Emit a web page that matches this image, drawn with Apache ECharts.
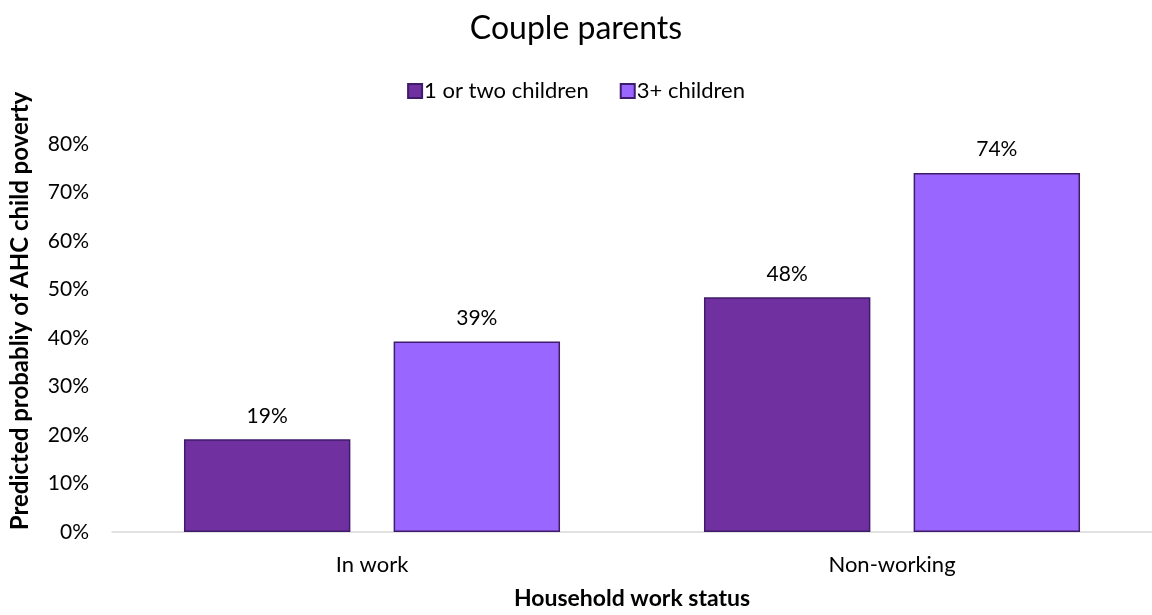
<!DOCTYPE html>
<html>
<head>
<meta charset="utf-8">
<title>Couple parents</title>
<script src="https://cdn.jsdelivr.net/npm/echarts@6/dist/echarts.min.js"></script>
<style>
  html, body { margin: 0; padding: 0; background: #ffffff; }
  #chart { width: 1152px; height: 615px; }
</style>
</head>
<body>
<div id="chart"></div>
<script>
// Household work status categories
const categories = ['In work', 'Non-working'];
// Predicted probability (%) of AHC child poverty by family size
const oneOrTwoChildren = [19.1, 48.4];
const threePlusChildren = [39.3, 74.0];
const seriesNames = ['1 or two children', '3+ children'];

const FONT = 'Lato, "Liberation Sans", sans-serif';

const chart = echarts.init(document.getElementById('chart'), null, { renderer: 'canvas' });

const labelOpt = {
  show: true,
  position: 'top',
  distance: 13,
  color: '#000000',
  fontFamily: FONT,
  fontSize: 21,
  formatter: p => Math.round(p.value) + '%'
};

chart.setOption({
  backgroundColor: '#ffffff',
  animation: false,
  title: {
    text: 'Couple parents',
    left: 'center',
    top: 8,
    textStyle: { fontFamily: FONT, fontSize: 32, fontWeight: 'normal', color: '#000000' }
  },
  legend: {
    top: 75,
    left: 'center',
    icon: 'rect',
    itemWidth: 14,
    itemHeight: 14,
    itemGap: 31,
    textStyle: { fontFamily: FONT, fontSize: 22, color: '#000000', padding: [0, 0, 0, -3] },
    data: seriesNames
  },
  // the plot area runs slightly past the right edge of the canvas
  grid: { left: 110, width: 1050, top: 144, bottom: 83, containLabel: false },
  xAxis: {
    type: 'category',
    data: categories,
    name: 'Household work status',
    nameLocation: 'middle',
    nameGap: 55,
    nameTextStyle: { fontFamily: FONT, fontSize: 23, fontWeight: 'bold', color: '#000000' },
    axisLine: { show: true, lineStyle: { color: '#D9D9D9', width: 1.5 } },
    axisTick: { show: false },
    axisLabel: { fontFamily: FONT, fontSize: 22, color: '#000000', margin: 22 }
  },
  yAxis: {
    type: 'value',
    min: 0,
    max: 80,
    interval: 10,
    name: 'Predicted probabliy of AHC child poverty',
    nameLocation: 'middle',
    nameGap: 80,
    nameTextStyle: { fontFamily: FONT, fontSize: 24, fontWeight: 'bold', color: '#000000', padding: [0, 0, 0, 54] },
    axisLine: { show: false },
    axisTick: { show: false },
    splitLine: { show: false },
    axisLabel: { fontFamily: FONT, fontSize: 21, color: '#000000', margin: 23, formatter: v => v + '%' }
  },
  series: [
    {
      name: seriesNames[0],
      type: 'bar',
      data: oneOrTwoChildren,
      barWidth: '32%',
      barGap: '26%',
      itemStyle: { color: '#7030A0', borderColor: '#3F1C6B', borderWidth: 1.5 },
      label: labelOpt
    },
    {
      name: seriesNames[1],
      type: 'bar',
      data: threePlusChildren,
      barWidth: '32%',
      itemStyle: { color: '#9966FF', borderColor: '#3F1C6B', borderWidth: 1.5 },
      label: labelOpt
    }
  ]
});
</script>
</body>
</html>
